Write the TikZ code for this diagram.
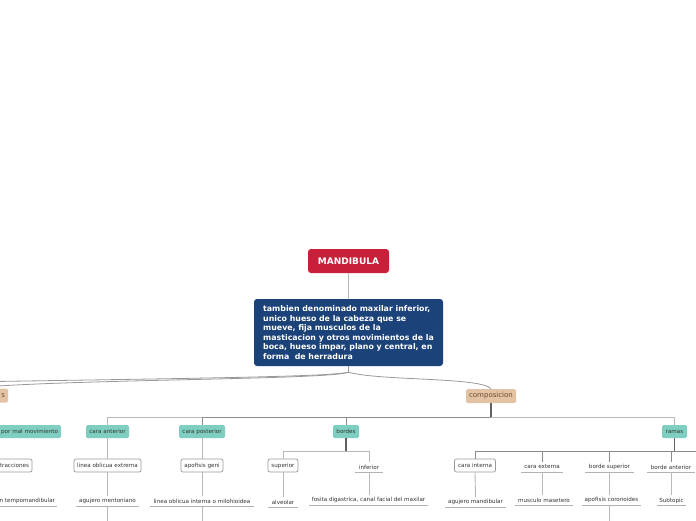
\documentclass[tikz,border=0pt]{standalone}
\usepackage{fontspec}
\setmainfont{DejaVu Sans}
\definecolor{mred}{HTML}{C8203A}
\definecolor{mblue}{HTML}{1B4279}
\definecolor{mtan}{HTML}{E3C3A3}
\definecolor{mteal}{HTML}{7ECFC1}
\definecolor{txt}{HTML}{333333}
\definecolor{tantxt}{HTML}{6B4A30}
\begin{document}
\begin{tikzpicture}[x=1pt,y=-1pt,
 conn/.style={draw=black!28, line width=0.9pt},
 dk/.style={draw=black!45, line width=1.0pt},
 trunk/.style={draw=black!62, line width=1.6pt},
 curve/.style={draw=black!40, line width=0.8pt},
 sm/.style={font=\fontsize{5.6}{6.4}\selectfont, text=txt},
 tealbox/.style={sm, fill=mteal, rounded corners=1.5pt, minimum height=13pt, inner sep=0pt},
 tanbox/.style={fill=mtan, rounded corners=1.5pt, minimum height=14pt, inner sep=0pt, font=\fontsize{7}{8}\selectfont, text=tantxt},
 wbox/.style={sm, draw=black!40, fill=white, rounded corners=2pt, line width=0.7pt, minimum height=13pt, inner sep=0pt},
 uline/.style={sm, inner sep=0pt, minimum height=10pt, append after command={(\tikzlastnode.south west) edge[draw=black!30, line width=0.9pt] (\tikzlastnode.south east)}},
]
\useasboundingbox (0,0) rectangle (696,520);
\fill[white] (0,0) rectangle (696,520);
\clip (0,0) rectangle (696,520);

% main nodes
\node[fill=mred, rounded corners=3pt, minimum width=81pt, minimum height=24pt, inner sep=0pt, text=white, font=\bfseries\fontsize{9}{10}\selectfont] (mand) at (348.5,261) {MANDIBULA};
\node[fill=mblue, rounded corners=3pt, minimum width=189pt, minimum height=67pt, inner sep=0pt, align=left, text=white, font=\bfseries\fontsize{7.85}{9.5}\selectfont] (desc) at (348.5,332.5) {tambien denominado maxilar inferior,\\unico hueso de la cabeza que se\\mueve, fija musculos de la\\masticacion y otros movimientos de la\\boca, hueso impar, plano y central, en\\forma\ \ de herradura};

% categories
\node[tanbox, minimum width=78pt, text width=72pt, align=right] (leftcat) at (-31,395.5) {s};
\node[tanbox, minimum width=50pt] (comp) at (491,396) {composicion};
\coordinate (farleft) at (-140,384);

% left subtree (mostly off the page)
\node[tealbox, minimum width=161pt, text width=155pt, align=right] (pormal) at (-19.5,431.5) {por mal movimiento};
\node[wbox, minimum width=91pt, text width=85pt, align=right] (tracc) at (-13.5,465.5) {tracciones};
\node[uline, minimum width=154pt, text width=150pt, align=right] (tempo) at (-20,501) {n tempomandibular};

% composicion children
\node[tealbox, minimum width=43pt] (caraant) at (107.5,431.5) {cara anterior};
\node[tealbox, minimum width=46pt] (carapos) at (202,431.5) {cara posterior};
\node[tealbox, minimum width=26pt] (bordes) at (346,431.5) {bordes};
\node[tealbox, minimum width=25pt] (ramas) at (674.5,431.5) {ramas};

% level 3
\node[wbox, minimum width=67pt] (lineaext) at (107.5,465.5) {linea oblicua extrema};
\node[wbox, minimum width=42pt] (apgeni) at (202,465.5) {apofisis geni};
\node[wbox, minimum width=30pt] (superior) at (283,465.5) {superior};
\node[uline, minimum width=28pt] (inferior) at (369,467) {inferior};
\node[wbox, minimum width=41pt] (carint) at (475,465.5) {cara interna};
\node[uline, minimum width=42pt] (carext) at (542,467) {cara externa};
\node[uline, minimum width=49pt] (bsup) at (609.5,467) {borde superior};
\node[uline, minimum width=48pt] (bant) at (671,467) {borde anterior};
\coordinate (offr) at (745,458);

% level 4
\node[uline, minimum width=63pt] (agmen) at (107.5,501) {agujero mentoniano};
\node[uline, minimum width=104pt] (lineaint) at (202,501) {linea oblicua interna o milohioidea};
\node[uline, minimum width=30pt] (alveolar) at (283,502) {alveolar};
\node[uline, minimum width=119pt] (fosita) at (368.5,500) {fosita digastrica, canal facial del maxilar};
\node[uline, minimum width=61pt] (agmand) at (475.5,502) {agujero mandibular};
\node[uline, minimum width=58pt] (muscmas) at (544,500) {musculo masetero};
\node[uline, minimum width=59pt] (apcor) at (611.5,500) {apofisis coronoides};
\node[uline, minimum width=29pt] (subt) at (671.5,500.5) {Subtopic};

\coordinate (d1) at (107.5,540);
\coordinate (d2) at (202,540);
\coordinate (d3) at (611.5,540);

% connectors
\draw[conn] (mand.south) -- (desc.north);
\draw[curve] (desc.south) -- ++(0,6) coordinate (split);
\draw[curve] (split) .. controls (330,380) and (60,379) .. (leftcat.north);
\draw[curve] (split) .. controls (325,378) and (100,379) .. (farleft);
\draw[curve] (split) .. controls (380,381) and (482,377) .. (comp.north);

\draw[conn] (leftcat.south) -- ++(0,14) -| (pormal.north);
\draw[conn] (pormal.south) -- (tracc.north -| pormal.south) -| (tracc.north);
\draw[conn] (tracc.south) -- (tempo.north -| tracc.south);

\draw[trunk] (comp.south) -- ++(0,14) coordinate (cb);
\draw[conn] (cb) -| (caraant.north);
\draw[conn] (cb) -| (ramas.north);
\draw[dk] (cb) -| (carapos.north);
\draw[dk] (cb) -| (bordes.north);

\draw[conn] (caraant.south) -- (lineaext.north);
\draw[conn] (lineaext.south) -- (agmen.north);
\draw[conn] (agmen.south) -- (d1);
\draw[conn] (carapos.south) -- (apgeni.north);
\draw[conn] (apgeni.south) -- (lineaint.north);
\draw[conn] (lineaint.south) -- (d2);

\draw[trunk] (bordes.south) -- ++(0,13) coordinate (bb);
\draw[conn] (bb) -| (superior.north);
\draw[conn] (bb) -| (inferior.north);
\draw[conn] (superior.south) -- (alveolar.north);
\draw[conn] (inferior.south) -- (fosita.north -| inferior.south);

\draw[trunk] (ramas.south) -- ++(0,13) coordinate (rb);
\draw[dk] (rb) -| (carint.north);
\draw[dk] (rb) -| (carext.north);
\draw[dk] (rb) -| (bsup.north);
\draw[dk] (rb) -| (bant.north);
\draw[dk] (rb) -| (offr);
\draw[conn] (carint.south) -- (agmand.north);
\draw[conn] (carext.south) -- (muscmas.north -| carext.south);
\draw[conn] (bsup.south) -- (apcor.north -| bsup.south);
\draw[conn] (apcor.south -| bsup.south) -- (d3 -| bsup.south);
\draw[conn] (bant.south) -- (subt.north -| bant.south);
\end{tikzpicture}
\end{document}
